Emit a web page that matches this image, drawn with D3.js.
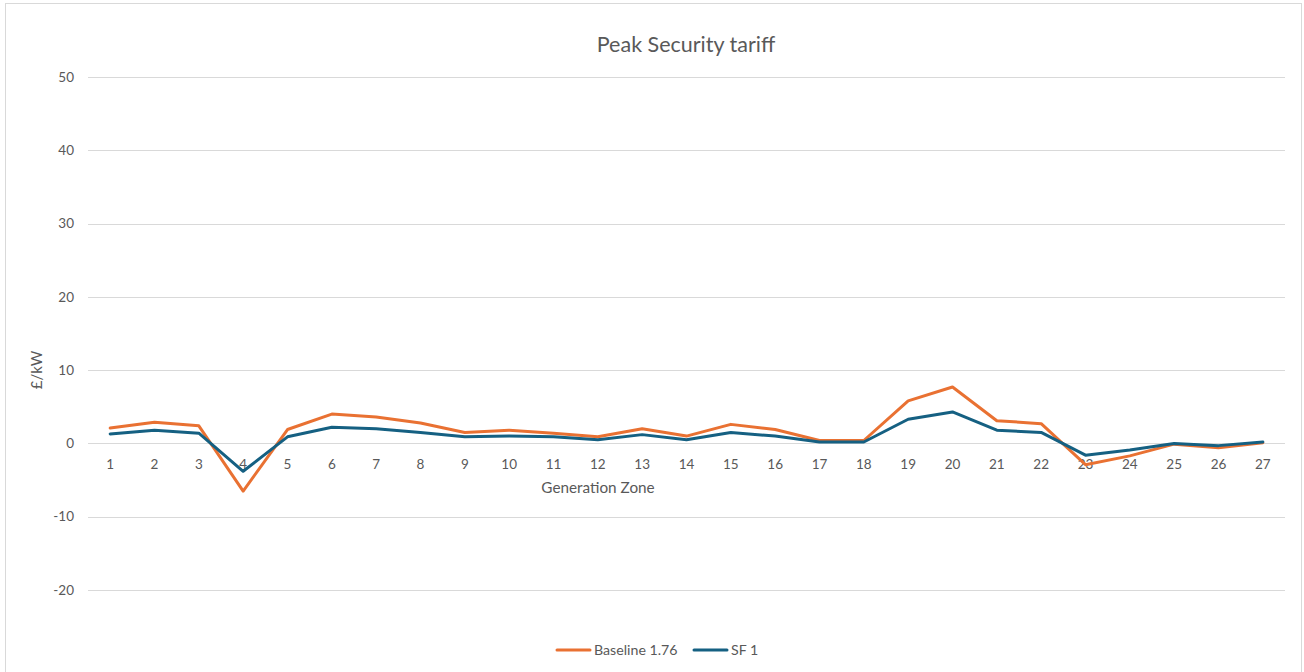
<!DOCTYPE html>
<html>
<head>
<meta charset="utf-8">
<script src="https://cdn.jsdelivr.net/npm/d3@7"></script>
<style>
  html, body { margin: 0; padding: 0; background: #fff; }
  svg { display: block; }
</style>
</head>
<body>
<svg id="chart" width="1304" height="672"></svg>
<script>
// Generation zones 1..27
const zones = d3.range(1, 28).map(String)

// £/kW values
const baseline = [2.1, 2.9, 2.4, -6.5, 1.9, 4.0, 3.6, 2.8, 1.5, 1.8, 1.4, 0.9, 2.0, 1.0, 2.6, 1.9, 0.4, 0.4,
                  5.8, 7.7, 3.1, 2.7, -2.9, -1.7, -0.1, -0.6, 0.1]
const sf1 = [1.3, 1.8, 1.4, -3.8, 0.9, 2.2, 2.0, 1.5, 0.9, 1.0, 0.9, 0.5, 1.2, 0.5, 1.5, 1.0, 0.2, 0.2,
             3.3, 4.3, 1.8, 1.5, -1.6, -0.9, 0.0, -0.3, 0.2]

const seriesNames = ['Baseline 1.76', 'SF 1']
const seriesColors = ['#E97132', '#156082']
const yTicks = [-20, -10, 0, 10, 20, 30, 40, 50]

const font = 'Lato, "Open Sans", sans-serif'
const textColor = '#595959'

const svg = d3.select('#chart')

// outer chart border
svg.append('rect')
    .attr('x', 5.5).attr('y', 3.5)
    .attr('width', 1296).attr('height', 680)
    .attr('fill', '#fff')
    .attr('stroke', '#d9d9d9')

const margin = { left: 88, right: 1285, top: 77, bottom: 590 }

const x = d3.scaleBand()
    .domain(zones)
    .range([margin.left, margin.right])

const y = d3.scaleLinear()
    .domain([-20, 50])
    .range([margin.bottom, margin.top])

// gridlines
svg.append('g')
    .selectAll('line')
    .data(yTicks)
    .join('line')
    .attr('x1', margin.left).attr('x2', margin.right)
    .attr('y1', d => Math.round(y(d)) + 0.5)
    .attr('y2', d => Math.round(y(d)) + 0.5)
    .attr('stroke', '#d9d9d9')
    .attr('stroke-width', 1)

// y tick labels
svg.append('g')
    .selectAll('text')
    .data(yTicks)
    .join('text')
    .attr('x', 74)
    .attr('y', d => y(d))
    .attr('dy', '0.35em')
    .attr('text-anchor', 'end')
    .attr('font-family', font)
    .attr('font-size', 13.5)
    .attr('fill', textColor)
    .text(d => d)

// x tick labels, sitting under the zero line
svg.append('g')
    .selectAll('text')
    .data(zones)
    .join('text')
    .attr('x', d => x(d) + x.bandwidth() / 2)
    .attr('y', y(0) + 26)
    .attr('text-anchor', 'middle')
    .attr('font-family', font)
    .attr('font-size', 13.5)
    .attr('fill', textColor)
    .text(d => d)

// lines
const line = d3.line()
    .x((d, i) => x(zones[i]) + x.bandwidth() / 2)
    .y(d => y(d))

;[baseline, sf1].forEach((vals, k) => {
    svg.append('path')
        .datum(vals)
        .attr('d', line)
        .attr('fill', 'none')
        .attr('stroke', seriesColors[k])
        .attr('stroke-width', 3)
        .attr('stroke-linejoin', 'round')
        .attr('stroke-linecap', 'round')
})

// title
svg.append('text')
    .attr('x', 686).attr('y', 52)
    .attr('text-anchor', 'middle')
    .attr('font-family', font)
    .attr('font-size', 21.5)
    .attr('fill', textColor)
    .text('Peak Security tariff')

// axis titles
svg.append('text')
    .attr('x', 598).attr('y', 493)
    .attr('text-anchor', 'middle')
    .attr('font-family', font)
    .attr('font-size', 15.3)
    .attr('fill', textColor)
    .text('Generation Zone')

svg.append('text')
    .attr('transform', 'translate(42,370) rotate(-90)')
    .attr('text-anchor', 'middle')
    .attr('font-family', font)
    .attr('font-size', 15)
    .attr('fill', textColor)
    .text('£/kW')

// legend
const legend = svg.append('g')
const legendItems = [
    { name: seriesNames[0], color: seriesColors[0], x: 557 },
    { name: seriesNames[1], color: seriesColors[1], x: 694 }
]
legendItems.forEach(it => {
    legend.append('line')
        .attr('x1', it.x).attr('x2', it.x + 33)
        .attr('y1', 650).attr('y2', 650)
        .attr('stroke', it.color)
        .attr('stroke-width', 3)
        .attr('stroke-linecap', 'round')
    legend.append('text')
        .attr('x', it.x + 37).attr('y', 650)
        .attr('dy', '0.35em')
        .attr('font-family', font)
        .attr('font-size', 14.2)
        .attr('fill', textColor)
        .text(it.name)
})
</script>
</body>
</html>
